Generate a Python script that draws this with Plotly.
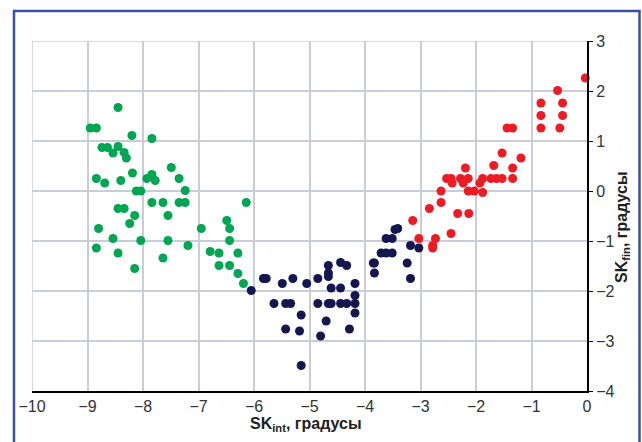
import plotly.graph_objects as go

# Green group
green_x = [-8.95, -8.84, -8.45, -8.20, -7.84, -8.74, -8.64, -8.45, -8.54, -8.34, -8.30,
           -8.84, -8.69, -8.40, -8.19, -7.93, -7.84, -7.78, -7.49, -7.35, -7.24, -8.12, -8.04,
           -8.45, -8.34, -7.84, -7.64, -7.35, -7.24, -7.55, -8.15, -8.24, -8.80, -8.54, -8.04,
           -7.55, -7.19, -8.84, -8.45, -7.64, -8.15, -6.95, -6.79, -6.63, -6.63, -6.49, -6.44,
           -6.44, -6.29, -6.44, -6.29, -6.19, -6.14]
green_y = [1.26, 1.26, 1.67, 1.11, 1.05, 0.87, 0.87, 0.89, 0.76, 0.77, 0.66,
           0.25, 0.16, 0.21, 0.36, 0.25, 0.33, 0.21, 0.47, 0.25, 0.01, 0.0, 0.0,
           -0.35, -0.35, -0.23, -0.23, -0.23, -0.23, -0.49, -0.49, -0.65, -0.75, -0.95, -0.99,
           -0.99, -1.09, -1.14, -1.24, -1.34, -1.55, -0.75, -1.21, -1.24, -1.49, -0.59, -0.75,
           -0.99, -1.24, -1.49, -1.65, -1.85, -0.23]

# Navy group
navy_x = [-6.05, -5.83, -5.78, -5.64, -5.43, -5.34, -5.49, -5.30, -5.05, -5.15, -5.43,
          -5.18, -5.15, -4.85, -4.85, -4.70, -4.80, -4.66, -4.66, -4.66, -4.61, -4.66, -4.61,
          -4.44, -4.44, -4.33, -4.44, -4.33, -4.18, -4.18, -4.18, -4.18, -4.28, -3.85, -3.83,
          -3.83, -3.71, -3.62, -3.51, -3.62, -3.51, -3.46, -3.41, -3.24, -3.18, -3.18, -3.03]
navy_y = [-1.99, -1.75, -1.75, -2.25, -2.25, -2.25, -1.85, -1.75, -1.85, -2.48, -2.76,
          -2.80, -3.49, -1.75, -2.25, -2.60, -2.90, -1.49, -1.64, -1.71, -1.94, -2.25, -2.25,
          -1.94, -2.25, -2.25, -1.43, -1.49, -1.85, -2.09, -2.25, -2.44, -2.76, -1.44, -1.44,
          -1.64, -1.24, -1.24, -1.24, -0.95, -0.95, -0.77, -0.75, -1.44, -1.75, -1.09, -1.14]

# Red group
red_x = [-3.14, -3.03, -2.84, -2.78, -2.73, -2.78, -2.63, -2.63, -2.53, -2.45, -2.43,
         -2.45, -2.33, -2.28, -2.23, -2.19, -2.14, -2.14, -2.03, -2.13, -1.93, -1.88, -1.88,
         -1.73, -1.63, -1.53, -1.68, -1.53, -1.44, -1.34, -1.34, -1.34, -1.19, -0.83, -0.83,
         -0.83, -0.53, -0.44, -0.44, -0.49, -0.03]
red_y = [-0.59, -0.95, -0.35, -1.09, -0.95, -1.14, 0.0, -0.23, 0.25, 0.25, 0.16,
         -0.85, -0.45, 0.25, 0.16, 0.46, 0.25, 0.0, 0.0, -0.45, 0.16, 0.25, -0.03,
         0.25, 0.25, 0.25, 0.51, 0.76, 1.26, 1.26, 0.46, 0.25, 0.66, 1.76, 1.51,
         1.26, 2.01, 1.76, 1.51, 1.26, 2.26]

x_ticks = [-10, -9, -8, -7, -6, -5, -4, -3, -2, -1, 0]
y_ticks = [-4, -3, -2, -1, 0, 1, 2, 3]

tick_font = dict(family="Liberation Sans Narrow, Liberation Sans, Arial", size=16, color="#333333")
title_font = dict(family="Liberation Sans, Arial", size=16, color="#222222")

fig = go.Figure()
for xs, ys, col in [(green_x, green_y, "#00a651"), (navy_x, navy_y, "#15154f"), (red_x, red_y, "#ed1c24")]:
    fig.add_trace(go.Scatter(x=xs, y=ys, mode="markers",
                             marker=dict(size=9, color=col, line=dict(width=0)),
                             showlegend=False, cliponaxis=False))

W, H = 642, 442
ml, mr, mt, mb = 32, 55, 41, 51
pw, ph = W - ml - mr, H - mt - mb

def px_x(p):
    return (p - ml) / pw

def px_y(p):
    return (H - mb - p) / ph

fig.update_layout(
    width=W, height=H,
    margin=dict(l=ml, r=mr, t=mt, b=mb),
    paper_bgcolor="white", plot_bgcolor="white",
    xaxis=dict(range=[-10, 0], tickvals=x_ticks, showgrid=True, gridcolor="#c9ccd9", gridwidth=1.5,
               zeroline=False, showline=True, linecolor="black", linewidth=2,
               ticks="", tickfont=tick_font, ticklabelstandoff=0),
    yaxis=dict(range=[-4, 3], tickvals=y_ticks, side="right", showgrid=True, gridcolor="#c9ccd9",
               gridwidth=1.5, zeroline=False, showline=True, linecolor="black", linewidth=2,
               ticks="outside", ticklen=4, tickcolor="black", tickfont=tick_font),
    shapes=[
        dict(type="line", xref="x", yref="paper", x0=-10, x1=-10, y0=0, y1=1,
             line=dict(color="#c9ccd9", width=1.5), layer="below"),
        dict(type="line", xref="paper", yref="y", x0=0, x1=1, y0=3, y1=3,
             line=dict(color="#c9ccd9", width=1.5), layer="below"),
        dict(type="rect", xref="paper", yref="paper",
             x0=px_x(14), x1=px_x(639.5), y0=px_y(460), y1=px_y(11),
             line=dict(color="#3a4fa8", width=2.5)),
    ],
    annotations=[
        dict(text="<b>SK<sub>int</sub>, градусы</b>", xref="paper", yref="paper",
             x=px_x(306), y=px_y(424), showarrow=False, font=title_font,
             xanchor="center", yanchor="middle"),
        dict(text="<b>SK<sub>fin</sub>, градусы</b>", xref="paper", yref="paper",
             x=px_x(623), y=px_y(227), showarrow=False, font=title_font, textangle=-90,
             xanchor="center", yanchor="middle"),
    ],
)

fig.write_html("out.html", config={"displayModeBar": False},
               post_script="document.body.style.margin='0px';document.body.style.overflow='hidden';")
